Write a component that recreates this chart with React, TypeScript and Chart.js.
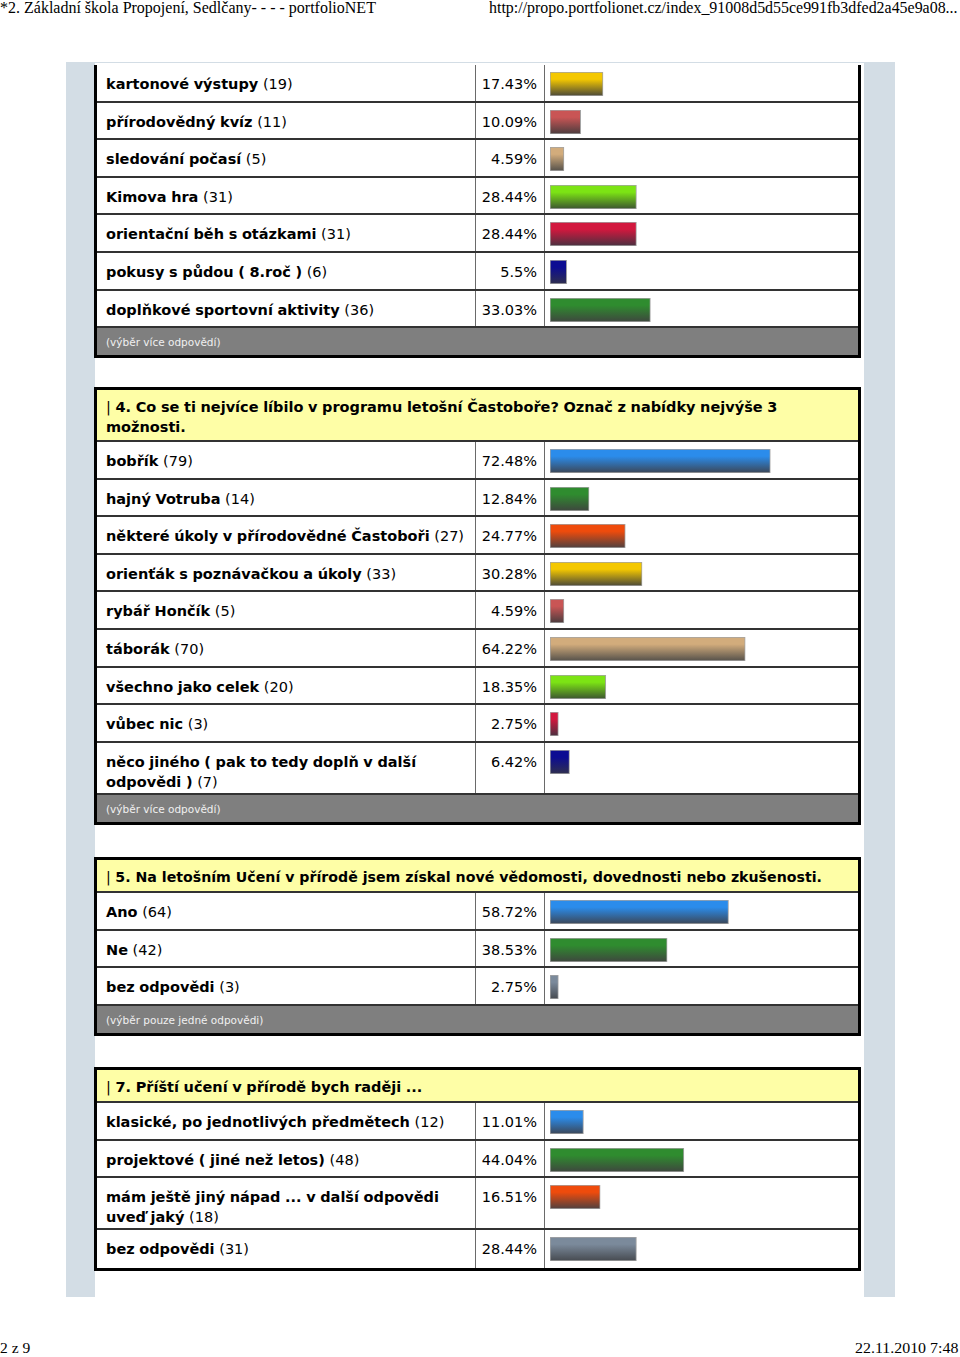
import React, { useEffect, useLayoutEffect, useRef, useState } from "react";
import { Chart, registerables } from "chart.js";

Chart.register(...registerables);

// ---------- data ----------
const q3Labels = [
  "kartonové výstupy",
  "přírodovědný kvíz",
  "sledování počasí",
  "Kimova hra",
  "orientační běh s otázkami",
  "pokusy s půdou ( 8.roč )",
  "doplňkové sportovní aktivity",
];
const q3Counts = [19, 11, 5, 31, 31, 6, 36];
const q3Percents = [17.43, 10.09, 4.59, 28.44, 28.44, 5.5, 33.03];

const q4Title = "4. Co se ti nejvíce líbilo v programu letošní Častoboře? Označ z nabídky nejvýše 3 možnosti.";
const q4Labels = [
  "bobřík",
  "hajný Votruba",
  "některé úkoly v přírodovědné Častoboři",
  "orienťák s poznávačkou a úkoly",
  "rybář Hončík",
  "táborák",
  "všechno jako celek",
  "vůbec nic",
  "něco jiného ( pak to tedy doplň v další odpovědi )",
];
const q4Counts = [79, 14, 27, 33, 5, 70, 20, 3, 7];
const q4Percents = [72.48, 12.84, 24.77, 30.28, 4.59, 64.22, 18.35, 2.75, 6.42];

const q5Title = "5. Na letošním Učení v přírodě jsem získal nové vědomosti, dovednosti nebo zkušenosti.";
const q5Labels = ["Ano", "Ne", "bez odpovědi"];
const q5Counts = [64, 42, 3];
const q5Percents = [58.72, 38.53, 2.75];

const q7Title = "7. Příští učení v přírodě bych raději ...";
const q7Labels = [
  "klasické, po jednotlivých předmětech",
  "projektové ( jiné než letos)",
  "mám ještě jiný nápad ... v další odpovědi uveď jaký",
  "bez odpovědi",
];
const q7Counts = [12, 48, 18, 31];
const q7Percents = [11.01, 44.04, 16.51, 28.44];

const multiNote = "(výběr více odpovědí)";
const singleNote = "(výběr pouze jedné odpovědi)";

const pageTitle = "*2. Základní škola Propojení, Sedlčany- - - - portfolioNET";
const pageUrl = "http://propo.portfolionet.cz/index_91008d5d55ce991fb3dfed2a45e9a08...";
const pageNumber = "2 z 9";
const pageDate = "22.11.2010 7:48";

// ---------- styles ----------
const palette: Record<string, [string, string]> = {
  gold: ["#f4c800", "#4a4838"],
  brick: ["#c95555", "#4a3c3e"],
  tan: ["#d2ac7c", "#54504a"],
  lime: ["#7ce414", "#3c5430"],
  crimson: ["#d2183e", "#4a3040"],
  navy: ["#0c0c92", "#30304e"],
  green: ["#2f8c2f", "#3e463e"],
  blue: ["#2b8ceb", "#3c4656"],
  orange: ["#ef4b0c", "#4e4040"],
  slate: ["#7b8a9b", "#464a50"],
};
const q3Colors = ["gold", "brick", "tan", "lime", "crimson", "navy", "green"];
const q4Colors = ["blue", "green", "orange", "gold", "brick", "tan", "lime", "crimson", "navy"];
const q5Colors = ["blue", "green", "slate"];
const q7Colors = ["blue", "green", "orange", "slate"];

const FONT = "'DejaVu Sans', Verdana, sans-serif";
const SERIF = "'Liberation Serif', 'Times New Roman', serif";
const ROW_H = 37.6;

function RowBar({ value, colorKey }: { value: number; colorKey: string }) {
  const ref = useRef<HTMLCanvasElement>(null);
  useEffect(() => {
    const [top, bottom] = palette[colorKey];
    const chart = new Chart(ref.current!, {
      type: "bar",
      data: {
        labels: [""],
        datasets: [
          {
            data: [value],
            backgroundColor: (c: any) => {
              const area = c.chart.chartArea;
              if (!area) return top;
              const g = c.chart.ctx.createLinearGradient(0, area.top, 0, area.bottom);
              g.addColorStop(0, top);
              g.addColorStop(0.3, top);
              g.addColorStop(1, bottom);
              return g;
            },
            borderColor: "rgba(90,90,90,0.55)",
            borderWidth: 1,
            borderSkipped: false,
            barPercentage: 1,
            categoryPercentage: 1,
          },
        ],
      },
      options: {
        indexAxis: "y",
        responsive: false,
        maintainAspectRatio: false,
        animation: false,
        devicePixelRatio: 1,
        events: [],
        layout: { padding: 0 },
        scales: {
          x: { display: false, min: 0, max: 100 },
          y: { display: false },
        },
        plugins: { legend: { display: false }, tooltip: { enabled: false } },
      },
    } as any);
    return () => chart.destroy();
  }, [value, colorKey]);
  return <canvas ref={ref} width={304} height={24} style={{ display: "block" }} />;
}

function Fit({ width, children, style }: { width: number; children: React.ReactNode; style?: React.CSSProperties }) {
  const ref = useRef<HTMLSpanElement>(null);
  const [s, setS] = useState(1);
  useLayoutEffect(() => {
    const w = ref.current!.offsetWidth;
    if (w > 0) setS(width / w);
  }, [width]);
  return (
    <span
      ref={ref}
      style={{
        display: "inline-block",
        whiteSpace: "nowrap",
        transform: `scaleX(${s})`,
        transformOrigin: "left top",
        ...style,
      }}
    >
      {children}
    </span>
  );
}

// bold words as separate spans so wrapped lines keep tight boxes
function BoldWords({ text }: { text: string }) {
  const words = text.split(" ");
  return (
    <>
      {words.map((w, i) => (
        <React.Fragment key={i}>
          <b>{w}</b>
          {i < words.length - 1 ? " " : ""}
        </React.Fragment>
      ))}
    </>
  );
}

type SectionProps = {
  top: number;
  title?: string;
  fitTitle?: number;
  labels: string[];
  counts: number[];
  percents: number[];
  colors: string[];
  note?: string;
  openTop?: boolean;
};

function Section({ top, title, fitTitle, labels, counts, percents, colors, note, openTop }: SectionProps) {
  return (
    <div
      style={{
        position: "absolute",
        left: 94,
        top,
        width: 767,
        boxSizing: "border-box",
        borderLeft: "3px solid #000",
        borderRight: "3px solid #000",
        borderBottom: "3px solid #000",
        borderTop: openTop ? "none" : "3px solid #000",
        background: "#fff",
        fontFamily: FONT,
        fontSize: 14.5,
        color: "#000",
      }}
    >
      {title && (
        <div
          style={{
            background: "#fefea6",
            padding: "7px 8px 3px 9px",
            lineHeight: "20px",
            minHeight: 33,
            boxSizing: "border-box",
            borderBottom: "2px solid #333",
          }}
        >
          {fitTitle ? (
            <Fit width={fitTitle}>
              <span>| </span>
              <b>{title}</b>
            </Fit>
          ) : (
            <>
              <span>| </span>
              <BoldWords text={title} />
            </>
          )}
        </div>
      )}
      {labels.map((lab, i) => {
        const last = i === labels.length - 1;
        return (
          <div
            key={i}
            style={{
              display: "flex",
              minHeight: ROW_H,
              boxSizing: "border-box",
              borderBottom: last && !note ? "none" : "2px solid #333",
            }}
          >
            <div style={{ width: 378, boxSizing: "border-box", padding: "9px 2px 1px 9px", lineHeight: "20px" }}>
              <BoldWords text={lab} /> <span>({counts[i]})</span>
            </div>
            <div
              style={{
                width: 69,
                boxSizing: "border-box",
                borderLeft: "1px solid #6a6a6a",
                textAlign: "right",
                padding: "9px 7px 0 0",
                lineHeight: "20px",
              }}
            >
              {percents[i]}%
            </div>
            <div style={{ flex: 1, borderLeft: "1px solid #6a6a6a", paddingLeft: 5, paddingTop: 7 }}>
              <RowBar value={percents[i]} colorKey={colors[i]} />
            </div>
          </div>
        );
      })}
      {note && (
        <div
          style={{
            height: 27,
            background: "#7f7f7f",
            color: "#f0f0f0",
            fontSize: 10.5,
            lineHeight: "28px",
            paddingLeft: 9,
          }}
        >
          {note}
        </div>
      )}
    </div>
  );
}

export default function App() {
  return (
    <div
      style={{
        position: "absolute",
        left: 0,
        top: 0,
        width: 960,
        height: 1357,
        background: "#fff",
        overflow: "hidden",
      }}
    >
      <div style={{ position: "absolute", left: 0, top: 0, fontFamily: SERIF, fontSize: 16, lineHeight: "16px" }}>
        <Fit width={376}>{pageTitle}</Fit>
      </div>
      <div style={{ position: "absolute", left: 489, top: 0, fontFamily: SERIF, fontSize: 16, lineHeight: "16px" }}>
        <Fit width={469}>{pageUrl}</Fit>
      </div>

      <div style={{ position: "absolute", left: 66, top: 62, width: 829, height: 1235, background: "#d3dde5" }} />
      <div style={{ position: "absolute", left: 95, top: 63, width: 769, height: 1234, background: "#fff" }} />

      <Section top={65} openTop labels={q3Labels} counts={q3Counts} percents={q3Percents} colors={q3Colors} note={multiNote} />
      <Section
        top={387}
        title={q4Title}
        labels={q4Labels}
        counts={q4Counts}
        percents={q4Percents}
        colors={q4Colors}
        note={multiNote}
      />
      <Section
        top={857}
        title={q5Title}
        fitTitle={716}
        labels={q5Labels}
        counts={q5Counts}
        percents={q5Percents}
        colors={q5Colors}
        note={singleNote}
      />
      <Section top={1067} title={q7Title} labels={q7Labels} counts={q7Counts} percents={q7Percents} colors={q7Colors} />

      <div style={{ position: "absolute", left: 0, top: 1341, fontFamily: SERIF, fontSize: 15, lineHeight: "15px" }}>
        <Fit width={30}>{pageNumber}</Fit>
      </div>
      <div style={{ position: "absolute", left: 855, top: 1341, fontFamily: SERIF, fontSize: 15, lineHeight: "15px" }}>
        <Fit width={103}>{pageDate}</Fit>
      </div>
    </div>
  );
}
